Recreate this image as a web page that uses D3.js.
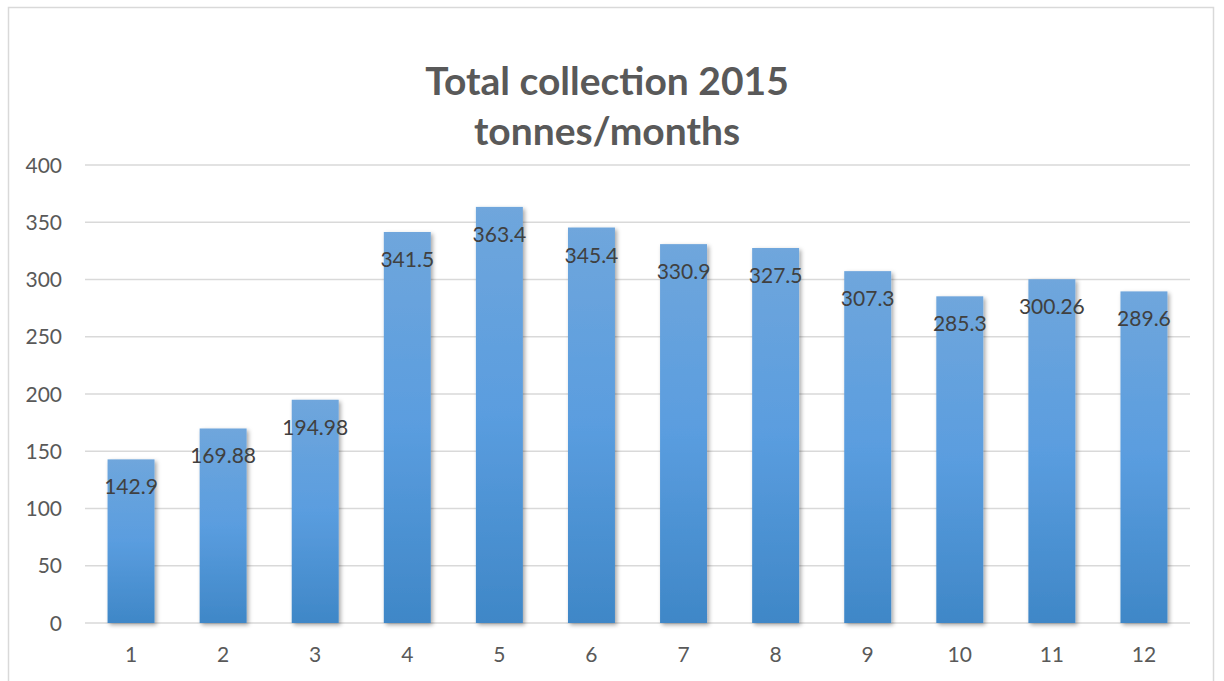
<!DOCTYPE html>
<html>
<head>
<meta charset="utf-8">
<script src="https://cdn.jsdelivr.net/npm/d3@7"></script>
<style>
  body { margin: 0; background: #fff; }
  svg { display: block; font-family: Lato, "Open Sans", sans-serif; }
</style>
</head>
<body>
<svg id="chart" width="1224" height="681"></svg>
<script>
// data
var months = ["1", "2", "3", "4", "5", "6", "7", "8", "9", "10", "11", "12"];
var collected = [142.9, 169.88, 194.98, 341.5, 363.4, 345.4, 330.9, 327.5, 307.3, 285.3, 300.26, 289.6];
var labels = ["142.9", "169.88", "194.98", "341.5", "363.4", "345.4", "330.9", "327.5", "307.3", "285.3", "300.26", "289.6"];
var yTicks = [0, 50, 100, 150, 200, 250, 300, 350, 400];
var titleLines = ["Total collection 2015", "tonnes/months"];

var svg = d3.select("#chart");
var plotLeft = 85, plotRight = 1190, plotTop = 165, plotBottom = 623;

// chart frame
svg.append("rect")
    .attr("x", 8.5).attr("y", 7.5)
    .attr("width", 1205).attr("height", 700)
    .attr("fill", "#fff")
    .attr("stroke", "#d9d9d9")
    .attr("stroke-width", 1.5);

var defs = svg.append("defs");
var grad = defs.append("linearGradient")
    .attr("id", "barGrad")
    .attr("x1", 0).attr("y1", 0).attr("x2", 0).attr("y2", 1);
grad.append("stop").attr("offset", "0%").attr("stop-color", "#6fa6dc");
grad.append("stop").attr("offset", "50%").attr("stop-color", "#5a9ddf");
grad.append("stop").attr("offset", "100%").attr("stop-color", "#3f87c7");

var shadow = defs.append("filter")
    .attr("id", "shadow")
    .attr("x", "-20%").attr("y", "-5%").attr("width", "150%").attr("height", "115%");
shadow.append("feDropShadow")
    .attr("dx", 2).attr("dy", 2)
    .attr("stdDeviation", 2)
    .attr("flood-color", "#000")
    .attr("flood-opacity", 0.35);

var x = d3.scaleBand()
    .domain(months)
    .range([plotLeft, plotRight])
    .paddingInner(0.49)
    .paddingOuter(0.245);

var y = d3.scaleLinear()
    .domain([0, 400])
    .range([plotBottom, plotTop]);

// gridlines
svg.append("g")
    .selectAll("line")
    .data(yTicks)
    .enter()
    .append("line")
    .attr("x1", plotLeft).attr("x2", plotRight)
    .attr("y1", function (d) { return y(d); })
    .attr("y2", function (d) { return y(d); })
    .attr("stroke", "#d9d9d9")
    .attr("stroke-width", 1.5);

// y tick labels
svg.append("g")
    .selectAll("text")
    .data(yTicks)
    .enter()
    .append("text")
    .attr("x", 62)
    .attr("y", function (d) { return y(d) + 7.5; })
    .attr("text-anchor", "end")
    .attr("font-size", 21)
    .attr("fill", "#595959")
    .text(function (d) { return d; });

// bars
svg.append("g")
    .selectAll("rect")
    .data(collected)
    .enter()
    .append("rect")
    .attr("x", function (d, i) { return x(months[i]); })
    .attr("y", function (d) { return y(d); })
    .attr("width", x.bandwidth())
    .attr("height", function (d) { return y(0) - y(d); })
    .attr("fill", "url(#barGrad)")
    .attr("filter", "url(#shadow)");

// value labels
svg.append("g")
    .selectAll("text")
    .data(collected)
    .enter()
    .append("text")
    .attr("x", function (d, i) { return x(months[i]) + x.bandwidth() / 2; })
    .attr("y", function (d) { return y(d) + 35; })
    .attr("text-anchor", "middle")
    .attr("font-size", 21)
    .attr("fill", "#404040")
    .text(function (d, i) { return labels[i]; });

// x labels
svg.append("g")
    .selectAll("text")
    .data(months)
    .enter()
    .append("text")
    .attr("x", function (d) { return x(d) + x.bandwidth() / 2; })
    .attr("y", 662)
    .attr("text-anchor", "middle")
    .attr("font-size", 21)
    .attr("fill", "#595959")
    .text(function (d) { return d; });

// title
svg.append("g")
    .selectAll("text")
    .data(titleLines)
    .enter()
    .append("text")
    .attr("x", 607)
    .attr("y", function (d, i) { return 95 + i * 50; })
    .attr("text-anchor", "middle")
    .attr("font-size", 39)
    .attr("font-weight", "bold")
    .attr("fill", "#595959")
    .text(function (d) { return d; });
</script>
</body>
</html>
